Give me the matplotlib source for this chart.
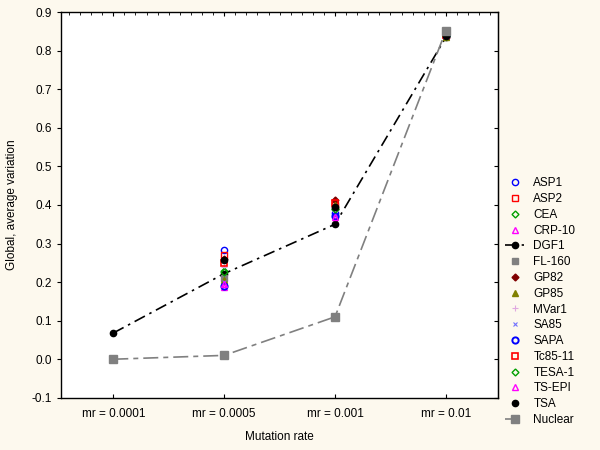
import numpy as np
import matplotlib.pyplot as plt
from matplotlib.ticker import MultipleLocator

plt.rcParams["font.family"] = ["Liberation Sans", "DejaVu Sans"]

rates = ["mr = 0.0001", "mr = 0.0005", "mr = 0.001", "mr = 0.01"]

# values per gene at each mutation rate (nan = not drawn)
genes = ["ASP1", "ASP2", "CEA", "CRP-10", "DGF1", "FL-160", "GP82", "GP85",
         "MVar1", "SA85", "SAPA", "Tc85-11", "TESA-1", "TS-EPI", "TSA"]
nan = np.nan
values = {
    "ASP1":    [nan, 0.283, 0.380, 0.840],
    "ASP2":    [nan, 0.270, 0.400, 0.840],
    "CEA":     [nan, 0.228, 0.390, 0.838],
    "CRP-10":  [nan, 0.187, 0.375, 0.840],
    "DGF1":    [0.068, 0.222, 0.350, 0.835],
    "FL-160":  [nan, 0.210, 0.395, 0.845],
    "GP82":    [nan, 0.260, 0.413, 0.838],
    "GP85":    [nan, 0.205, 0.400, 0.836],
    "MVar1":   [nan, 0.240, 0.385, 0.840],
    "SA85":    [nan, 0.200, 0.375, 0.840],
    "SAPA":    [nan, 0.190, 0.372, 0.840],
    "Tc85-11": [nan, 0.250, 0.405, 0.842],
    "TESA-1":  [nan, 0.225, 0.390, 0.838],
    "TS-EPI":  [nan, 0.195, 0.370, 0.840],
    "TSA":     [nan, 0.257, 0.395, 0.838],
}
nuclear = [0.0, 0.010, 0.110, 0.852]

styles = {
    "ASP1":    dict(marker="o", mfc="none", mec="#0000ff"),
    "ASP2":    dict(marker="s", mfc="none", mec="#ff0000"),
    "CEA":     dict(marker="D", mfc="none", mec="#00a000", ms=3.5),
    "CRP-10":  dict(marker="^", mfc="none", mec="#ff00ff"),
    "DGF1":    dict(marker="o", mfc="black", mec="black", ls=(0, (7, 3, 1.5, 3)),
                    color="black", lw=1.2),
    "FL-160":  dict(marker="s", mfc="#808080", mec="#808080"),
    "GP82":    dict(marker="D", mfc="#800000", mec="#800000", ms=3.5),
    "GP85":    dict(marker="^", mfc="#808000", mec="#808000"),
    "MVar1":   dict(marker="+", mfc="none", mec="#e0a8e0", mew=0.8),
    "SA85":    dict(marker="x", mfc="none", mec="#7070ff", mew=0.8, ms=3.5),
    "SAPA":    dict(marker="o", mfc="none", mec="#0000ff", mew=1.4),
    "Tc85-11": dict(marker="s", mfc="none", mec="#ff0000", mew=1.2),
    "TESA-1":  dict(marker="D", mfc="none", mec="#00a000", ms=3.5),
    "TS-EPI":  dict(marker="^", mfc="none", mec="#ff00ff"),
    "TSA":     dict(marker="o", mfc="black", mec="black"),
}

x = np.arange(len(rates))

fig = plt.figure(figsize=(6, 4.5), dpi=100, facecolor="#fdf9ee")
ax = fig.add_axes([0.102, 0.116, 0.728, 0.857])
ax.set_facecolor("white")

for g in genes:
    st = dict(ms=4.5, mew=1.0, ls="none")
    st.update(styles[g])
    ax.plot(x, values[g], label=g, **st)

ax.plot(x, nuclear, label="Nuclear", color="#808080", ls=(0, (9, 3, 3, 3)), lw=1.2,
        marker="s", ms=5.5, mfc="#808080", mec="#808080")

ax.set_xlim(-0.47, 3.47)
ax.set_ylim(-0.1, 0.9)
ax.set_xticks(x)
ax.set_xticklabels(rates)
ax.xaxis.set_minor_locator(MultipleLocator(0.1))
ax.yaxis.set_major_locator(MultipleLocator(0.1))
ax.yaxis.set_major_formatter(plt.FormatStrFormatter("%.1f"))
ax.tick_params(axis="y", labelsize=8.5, direction="out", length=3)
ax.tick_params(axis="x", which="major", labelsize=8.5, direction="in", length=3,
               pad=7, top=True)
ax.tick_params(axis="x", which="minor", direction="in", length=2,
               bottom=False, top=True)
right = ax.secondary_yaxis("right")
right.yaxis.set_major_locator(MultipleLocator(0.1))
right.tick_params(direction="in", length=3, labelright=False)
for sp in ax.spines.values():
    sp.set_linewidth(1.0)

ax.set_xlabel("Mutation rate", fontsize=8.5, labelpad=8)
ax.set_ylabel("Global, average variation", fontsize=8.5, labelpad=10)

ax.legend(loc="upper left", bbox_to_anchor=(1.0, 0.59), frameon=False,
          fontsize=8.5, handlelength=1.6, handletextpad=0.8,
          labelspacing=0.32, borderaxespad=0.2)

fig.savefig("out.png", dpi=100, facecolor=fig.get_facecolor())
